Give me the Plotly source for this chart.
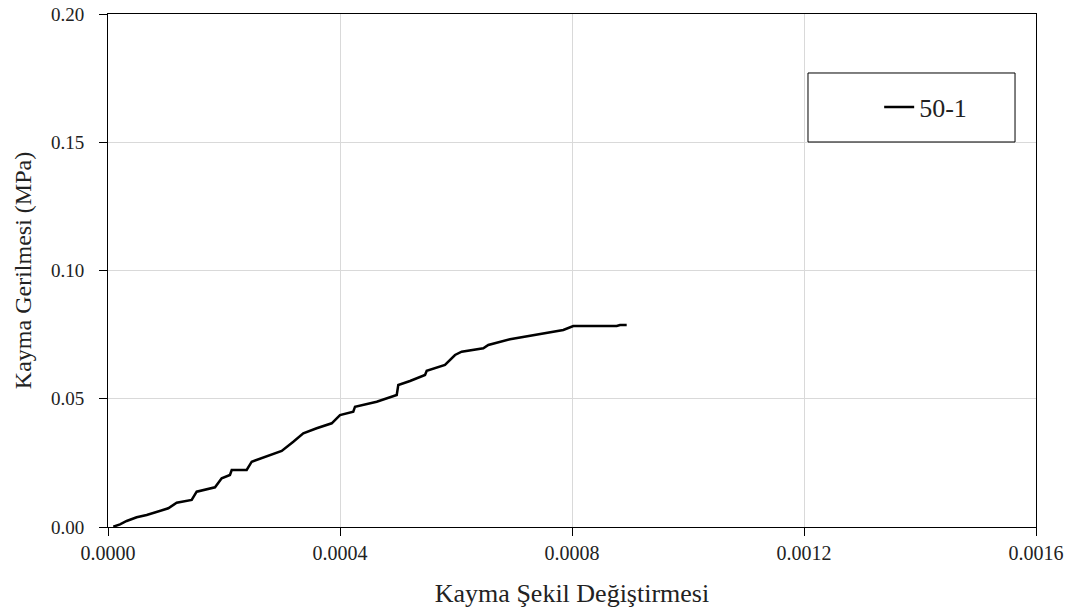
import plotly.graph_objects as go

strain = [9.1e-6, 2.07e-5, 3.22e-5, 4.95e-5, 6.67e-5, 8.40e-5, 1.040e-4, 1.184e-4, 1.357e-4,
          1.443e-4, 1.529e-4, 1.845e-4, 1.960e-4, 2.103e-4, 2.133e-4, 2.391e-4, 2.478e-4,
          2.736e-4, 2.995e-4, 3.195e-4, 3.367e-4, 3.598e-4, 3.857e-4, 4.0e-4, 4.229e-4,
          4.259e-4, 4.633e-4, 4.978e-4, 5.005e-4, 5.207e-4, 5.466e-4, 5.495e-4, 5.810e-4,
          5.983e-4, 6.098e-4, 6.471e-4, 6.557e-4, 6.931e-4, 7.276e-4, 7.564e-4, 7.850e-4,
          8.022e-4, 8.771e-4, 8.828e-4, 8.943e-4]
stress = [0.0001, 0.00105, 0.00234, 0.00378, 0.00468, 0.00585, 0.00729, 0.00947, 0.01025,
          0.01053, 0.01376, 0.01548, 0.01899, 0.02027, 0.02222, 0.02222, 0.02546,
          0.02768, 0.02963, 0.03326, 0.03653, 0.03848, 0.04043, 0.04366, 0.04495,
          0.0469, 0.04885, 0.05146, 0.05536, 0.05692, 0.05926, 0.06094, 0.06316,
          0.06706, 0.06834, 0.06967, 0.07096, 0.07318, 0.07446, 0.07575, 0.0768,
          0.07836, 0.07836, 0.07875, 0.07875]
series_name = "50-1"
x_title = "Kayma Şekil Değiştirmesi"
y_title = "Kayma Gerilmesi (MPa)"

font_family = "Liberation Serif"

fig = go.Figure()
fig.add_trace(go.Scatter(x=strain, y=stress, mode="lines", name=series_name,
                         line=dict(color="black", width=2.5)))

axis_common = dict(showline=True, linecolor="black", linewidth=1, mirror=True,
                   ticks="outside", ticklen=8, tickcolor="black", automargin=False,
                   showgrid=True, gridcolor="#d9d9d9", gridwidth=1, zeroline=False)

fig.update_layout(
    width=1079, height=614,
    margin=dict(l=108, r=43, t=14, b=87),
    paper_bgcolor="white", plot_bgcolor="white",
    font=dict(family=font_family, color="#222"),
    xaxis=dict(range=[0, 0.0016], dtick=0.0004, tick0=0, tickformat=".4f",
               ticklabelstandoff=0,
               tickfont=dict(size=20, color="#222", family=font_family),
               title=dict(text=x_title, font=dict(size=26, family=font_family), standoff=20), **axis_common),
    yaxis=dict(range=[0, 0.2], dtick=0.05, tick0=0, tickformat=".2f",
               ticklabelstandoff=11,
               tickfont=dict(size=19, color="#222", family=font_family),
               title=dict(text=y_title, font=dict(size=24, family=font_family), standoff=12), **axis_common),
    showlegend=True,
    legend=dict(x=0.831, y=0.8187, xanchor="left", yanchor="middle",
                bgcolor="rgba(0,0,0,0)", borderwidth=0,
                font=dict(size=26, family=font_family, color="#222")),
    shapes=[dict(type="rect", xref="paper", yref="paper",
                 x0=0.7543, x1=0.9774, y0=0.7505, y1=0.885,
                 line=dict(color="black", width=1), fillcolor="white", layer="above")],
)

fig.write_html("out.html")
